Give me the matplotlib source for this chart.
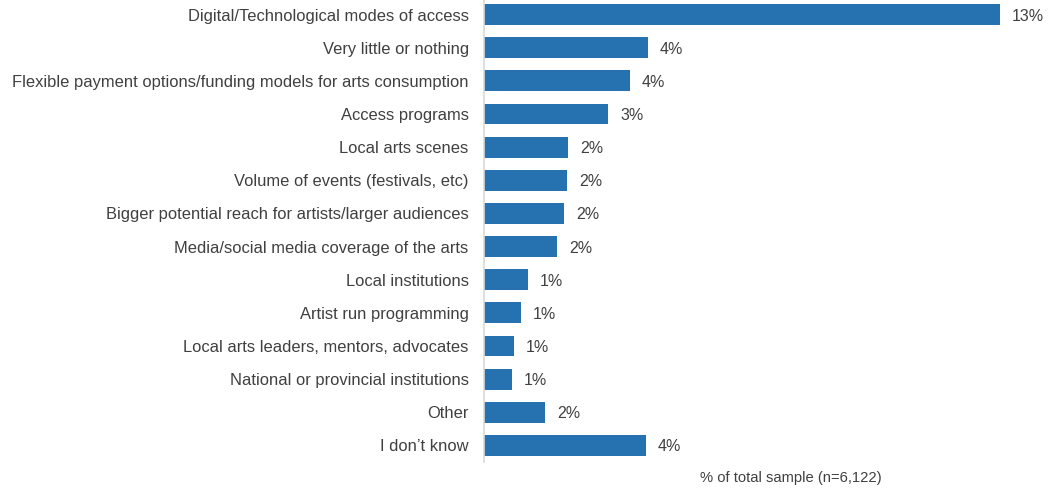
import matplotlib
matplotlib.use('Agg')
import matplotlib.pyplot as plt

plt.rcParams['font.family'] = ['Liberation Sans', 'DejaVu Sans']

# 数据：各类别占总样本的百分比
categories = [
    "Digital/Technological modes of access",
    "Very little or nothing",
    "Flexible payment options/funding models for arts consumption",
    "Access programs",
    "Local arts scenes",
    "Volume of events (festivals, etc)",
    "Bigger potential reach for artists/larger audiences",
    "Media/social media coverage of the arts",
    "Local institutions",
    "Artist run programming",
    "Local arts leaders, mentors, advocates",
    "National or provincial institutions",
    "Other",
    "I don\u2019t know",
]
values = [12.9, 4.1, 3.65, 3.1, 2.1, 2.07, 2.0, 1.82, 1.1, 0.92, 0.75, 0.7, 1.52, 4.05]
value_labels = ["13%", "4%", "4%", "3%", "2%", "2%", "2%", "2%", "1%", "1%", "1%", "1%", "2%", "4%"]

W, H = 1051, 491
fig = plt.figure(figsize=(W / 100, H / 100), dpi=100)
ax = fig.add_axes([484 / W, (H - 462) / H, (W - 484) / W, 464 / H])

y = range(len(categories))
ax.barh(y, values, height=0.63, color='#2672B0')
ax.set_ylim(len(categories) - 0.5, -0.5)
ax.set_xlim(0, (W - 484) / 40)

for i, (v, lab) in enumerate(zip(values, value_labels)):
    ax.text(v + 0.3, i, lab, va='center_baseline', ha='left', fontsize=11.5, color='#404040')

ax.set_yticks(list(y))
ax.set_yticklabels(categories, fontsize=11.9, color='#404040')
ax.tick_params(axis='y', length=0, pad=11)
ax.set_xticks([])
for s in ['top', 'right', 'bottom']:
    ax.spines[s].set_visible(False)
ax.spines['left'].set_color('#D9D9D9')
ax.spines['left'].set_linewidth(1.2)

fig.text(791 / W, 1 - 478 / H, "% of total sample (n=6,122)", ha='center', va='center',
         fontsize=10.6, color='#404040')

fig.savefig('out.png', dpi=100)
